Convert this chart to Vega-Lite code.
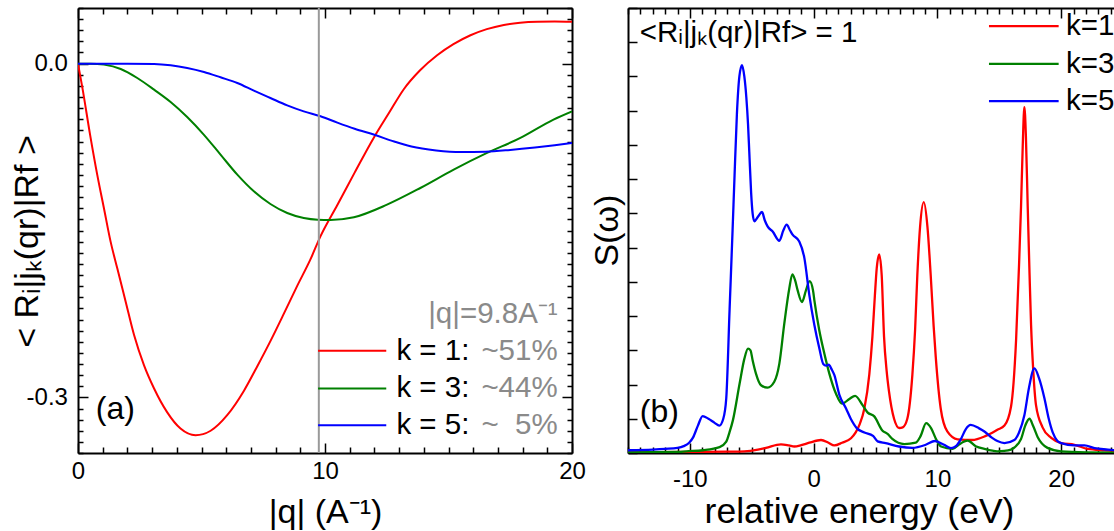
{
  "$schema": "https://vega.github.io/schema/vega-lite/v6.json",
  "padding": {"left": 10, "top": -4, "right": 0, "bottom": 0},
  "background": "white",
  "spacing": 4,
  "config": {
    "font": "Liberation Sans",
    "view": {"stroke": null},
    "axis": {
      "grid": false,
      "domainColor": "black",
      "domainWidth": 2,
      "tickColor": "black",
      "tickWidth": 1.5,
      "labelFont": "Liberation Sans",
      "labelFontSize": 24,
      "labelColor": "black",
      "titleFont": "Liberation Sans",
      "titleFontSize": 34,
      "titleFontWeight": "normal",
      "titleColor": "black",
      "labelOverlap": false,
      "labelFlush": false
    },
    "text": {"font": "Liberation Sans"}
  },
  "datasets": {
    "curvesA": [
      {"k": "k1", "q": 0, "v": 0}, {"k": "k1", "q": 0.18, "v": -0.022}, {"k": "k1", "q": 0.49, "v": -0.064},
      {"k": "k1", "q": 0.78, "v": -0.1}, {"k": "k1", "q": 1.05, "v": -0.13}, {"k": "k1", "q": 1.32, "v": -0.16},
      {"k": "k1", "q": 1.59, "v": -0.184}, {"k": "k1", "q": 1.93, "v": -0.214}, {"k": "k1", "q": 2.27, "v": -0.244},
      {"k": "k1", "q": 2.67, "v": -0.271}, {"k": "k1", "q": 3.08, "v": -0.292}, {"k": "k1", "q": 3.6, "v": -0.313},
      {"k": "k1", "q": 4.15, "v": -0.328}, {"k": "k1", "q": 4.76, "v": -0.334}, {"k": "k1", "q": 5.37, "v": -0.33},
      {"k": "k1", "q": 6.04, "v": -0.316}, {"k": "k1", "q": 6.72, "v": -0.294}, {"k": "k1", "q": 7.26, "v": -0.272},
      {"k": "k1", "q": 7.8, "v": -0.249}, {"k": "k1", "q": 8.33, "v": -0.225}, {"k": "k1", "q": 8.87, "v": -0.2},
      {"k": "k1", "q": 9.41, "v": -0.176}, {"k": "k1", "q": 9.82, "v": -0.155}, {"k": "k1", "q": 10.5, "v": -0.127},
      {"k": "k1", "q": 11.2, "v": -0.098}, {"k": "k1", "q": 11.97, "v": -0.0668}, {"k": "k1", "q": 12.6, "v": -0.044},
      {"k": "k1", "q": 13.19, "v": -0.023}, {"k": "k1", "q": 13.85, "v": -0.006}, {"k": "k1", "q": 14.54, "v": 0.0075},
      {"k": "k1", "q": 15.2, "v": 0.0175}, {"k": "k1", "q": 15.89, "v": 0.0255}, {"k": "k1", "q": 16.55, "v": 0.031},
      {"k": "k1", "q": 17.24, "v": 0.0348}, {"k": "k1", "q": 17.9, "v": 0.0368}, {"k": "k1", "q": 18.6, "v": 0.0377},
      {"k": "k1", "q": 19.3, "v": 0.0379}, {"k": "k1", "q": 20, "v": 0.0376},
      {"k": "k3", "q": 0, "v": 0}, {"k": "k3", "q": 0.5, "v": 0}, {"k": "k3", "q": 1.05, "v": -0.0009},
      {"k": "k3", "q": 1.73, "v": -0.0048}, {"k": "k3", "q": 2.4, "v": -0.0129}, {"k": "k3", "q": 3.08, "v": -0.0234},
      {"k": "k3", "q": 3.75, "v": -0.0345}, {"k": "k3", "q": 4.42, "v": -0.048}, {"k": "k3", "q": 5.1, "v": -0.064},
      {"k": "k3", "q": 5.77, "v": -0.0818}, {"k": "k3", "q": 6.45, "v": -0.0998}, {"k": "k3", "q": 7.12, "v": -0.1148},
      {"k": "k3", "q": 7.79, "v": -0.1262}, {"k": "k3", "q": 8.47, "v": -0.1343}, {"k": "k3", "q": 9.14, "v": -0.1388},
      {"k": "k3", "q": 9.71, "v": -0.1403}, {"k": "k3", "q": 10.22, "v": -0.1405}, {"k": "k3", "q": 11.17, "v": -0.1381},
      {"k": "k3", "q": 12.51, "v": -0.1268}, {"k": "k3", "q": 13.86, "v": -0.1118}, {"k": "k3", "q": 15.21, "v": -0.0953},
      {"k": "k3", "q": 16.56, "v": -0.0803}, {"k": "k3", "q": 17.91, "v": -0.0668}, {"k": "k3", "q": 19.25, "v": -0.0503},
      {"k": "k3", "q": 20, "v": -0.0429},
      {"k": "k5", "q": 0, "v": 0}, {"k": "k5", "q": 1, "v": 0}, {"k": "k5", "q": 2, "v": 0},
      {"k": "k5", "q": 3.08, "v": -0.0003}, {"k": "k5", "q": 3.75, "v": -0.0015}, {"k": "k5", "q": 4.42, "v": -0.0039},
      {"k": "k5", "q": 5.1, "v": -0.0075}, {"k": "k5", "q": 5.77, "v": -0.0123}, {"k": "k5", "q": 6.45, "v": -0.0174},
      {"k": "k5", "q": 7.12, "v": -0.0243}, {"k": "k5", "q": 7.79, "v": -0.0309}, {"k": "k5", "q": 8.47, "v": -0.0375},
      {"k": "k5", "q": 9.14, "v": -0.0429}, {"k": "k5", "q": 9.82, "v": -0.0473}, {"k": "k5", "q": 10.5, "v": -0.053},
      {"k": "k5", "q": 11.2, "v": -0.0585}, {"k": "k5", "q": 12.0, "v": -0.064}, {"k": "k5", "q": 12.8, "v": -0.07},
      {"k": "k5", "q": 13.5, "v": -0.0745}, {"k": "k5", "q": 14.5, "v": -0.078}, {"k": "k5", "q": 15.5, "v": -0.0795},
      {"k": "k5", "q": 16.5, "v": -0.0792}, {"k": "k5", "q": 17.5, "v": -0.0776}, {"k": "k5", "q": 18.5, "v": -0.0754},
      {"k": "k5", "q": 19.3, "v": -0.0733}, {"k": "k5", "q": 20, "v": -0.0713}
    ],
    "markerA": [{"q": 9.75}],
    "legendA": [
      {"k": "k1", "x1": 9.72, "x2": 12.48, "y": -0.258},
      {"k": "k3", "x1": 9.72, "x2": 12.48, "y": -0.292},
      {"k": "k5", "x1": 9.72, "x2": 12.48, "y": -0.325}
    ],
    "labelA": [{"x": 0.72, "y": -0.31, "t": "(a)"}],
    "blackA": [
      {"x": 12.89, "y": -0.258, "t": "k = 1:"},
      {"x": 12.89, "y": -0.292, "t": "k = 3:"},
      {"x": 12.89, "y": -0.325, "t": "k = 5:"}
    ],
    "grayA": [
      {"x": 19.42, "y": -0.2253, "t": "|q|=9.8A⁻¹"},
      {"x": 19.42, "y": -0.258, "t": "~51%"},
      {"x": 19.42, "y": -0.292, "t": "~44%"},
      {"x": 19.42, "y": -0.325, "t": "~\u00a0\u00a05%"}
    ],
    "curvesB": [
      {"k": "k1", "e": -15, "s": 0.02}, {"k": "k1", "e": -10, "s": 0.03}, {"k": "k1", "e": -7, "s": 0.04},
      {"k": "k1", "e": -5.6, "s": 0.05}, {"k": "k1", "e": -4.5, "s": 0.1}, {"k": "k1", "e": -3.85, "s": 0.15},
      {"k": "k1", "e": -2.64, "s": 0.25}, {"k": "k1", "e": -2.0, "s": 0.22}, {"k": "k1", "e": -1.56, "s": 0.19},
      {"k": "k1", "e": -1.0, "s": 0.23}, {"k": "k1", "e": -0.35, "s": 0.3}, {"k": "k1", "e": 0.6, "s": 0.38},
      {"k": "k1", "e": 1.2, "s": 0.3}, {"k": "k1", "e": 1.67, "s": 0.22}, {"k": "k1", "e": 2.3, "s": 0.3},
      {"k": "k1", "e": 3.02, "s": 0.43}, {"k": "k1", "e": 3.4, "s": 0.6}, {"k": "k1", "e": 3.7, "s": 0.82},
      {"k": "k1", "e": 4.1, "s": 1.3}, {"k": "k1", "e": 4.5, "s": 2.3}, {"k": "k1", "e": 4.75, "s": 3.4},
      {"k": "k1", "e": 4.95, "s": 4.6}, {"k": "k1", "e": 5.1, "s": 5.4}, {"k": "k1", "e": 5.3, "s": 5.8},
      {"k": "k1", "e": 5.5, "s": 5.2}, {"k": "k1", "e": 5.69, "s": 3.4}, {"k": "k1", "e": 5.9, "s": 2.4},
      {"k": "k1", "e": 6.09, "s": 1.8}, {"k": "k1", "e": 6.5, "s": 1.0}, {"k": "k1", "e": 6.92, "s": 0.73},
      {"k": "k1", "e": 7.2, "s": 0.75}, {"k": "k1", "e": 7.57, "s": 1.0}, {"k": "k1", "e": 7.98, "s": 2.29},
      {"k": "k1", "e": 8.2, "s": 3.6}, {"k": "k1", "e": 8.38, "s": 5.2}, {"k": "k1", "e": 8.6, "s": 6.6},
      {"k": "k1", "e": 8.9, "s": 7.33}, {"k": "k1", "e": 9.2, "s": 6.6}, {"k": "k1", "e": 9.46, "s": 5.2},
      {"k": "k1", "e": 9.7, "s": 3.7}, {"k": "k1", "e": 9.87, "s": 2.8}, {"k": "k1", "e": 10.27, "s": 1.3},
      {"k": "k1", "e": 10.8, "s": 0.63}, {"k": "k1", "e": 11.64, "s": 0.4}, {"k": "k1", "e": 12.8, "s": 0.38},
      {"k": "k1", "e": 13.91, "s": 0.5}, {"k": "k1", "e": 14.85, "s": 0.68}, {"k": "k1", "e": 15.42, "s": 0.8},
      {"k": "k1", "e": 15.95, "s": 1.35}, {"k": "k1", "e": 16.36, "s": 3.3}, {"k": "k1", "e": 16.6, "s": 5.5},
      {"k": "k1", "e": 16.76, "s": 7.2}, {"k": "k1", "e": 16.9, "s": 9.0}, {"k": "k1", "e": 17.03, "s": 10.1},
      {"k": "k1", "e": 17.15, "s": 9.3}, {"k": "k1", "e": 17.3, "s": 7.2}, {"k": "k1", "e": 17.45, "s": 5.2},
      {"k": "k1", "e": 17.57, "s": 3.75}, {"k": "k1", "e": 17.75, "s": 2.4}, {"k": "k1", "e": 17.97, "s": 1.4},
      {"k": "k1", "e": 18.5, "s": 0.75}, {"k": "k1", "e": 19.2, "s": 0.44}, {"k": "k1", "e": 20.0, "s": 0.29},
      {"k": "k1", "e": 21.08, "s": 0.24}, {"k": "k1", "e": 22.15, "s": 0.12}, {"k": "k1", "e": 23.5, "s": 0.08},
      {"k": "k1", "e": 25, "s": 0.05},
      {"k": "k3", "e": -15, "s": 0.02}, {"k": "k3", "e": -11, "s": 0.03}, {"k": "k3", "e": -10.3, "s": 0.05},
      {"k": "k3", "e": -8.95, "s": 0.08}, {"k": "k3", "e": -7.6, "s": 0.17}, {"k": "k3", "e": -7.06, "s": 0.33},
      {"k": "k3", "e": -6.8, "s": 0.6}, {"k": "k3", "e": -6.52, "s": 0.96}, {"k": "k3", "e": -5.98, "s": 2.03},
      {"k": "k3", "e": -5.6, "s": 2.75}, {"k": "k3", "e": -5.3, "s": 3.05}, {"k": "k3", "e": -5.1, "s": 3.0},
      {"k": "k3", "e": -4.93, "s": 2.71}, {"k": "k3", "e": -4.66, "s": 2.32}, {"k": "k3", "e": -4.25, "s": 1.98},
      {"k": "k3", "e": -3.72, "s": 1.91}, {"k": "k3", "e": -3.18, "s": 2.08}, {"k": "k3", "e": -2.77, "s": 2.61},
      {"k": "k3", "e": -2.37, "s": 3.78}, {"k": "k3", "e": -1.97, "s": 4.8}, {"k": "k3", "e": -1.72, "s": 5.22},
      {"k": "k3", "e": -1.5, "s": 5.05}, {"k": "k3", "e": -1.29, "s": 4.75}, {"k": "k3", "e": -0.94, "s": 4.41},
      {"k": "k3", "e": -0.62, "s": 4.75}, {"k": "k3", "e": -0.32, "s": 5.02}, {"k": "k3", "e": -0.05, "s": 4.75},
      {"k": "k3", "e": 0.06, "s": 4.46}, {"k": "k3", "e": 0.46, "s": 3.58}, {"k": "k3", "e": 0.87, "s": 2.9},
      {"k": "k3", "e": 1.27, "s": 2.32}, {"k": "k3", "e": 1.81, "s": 1.73}, {"k": "k3", "e": 2.3, "s": 1.44},
      {"k": "k3", "e": 2.89, "s": 1.58}, {"k": "k3", "e": 3.35, "s": 1.67}, {"k": "k3", "e": 3.97, "s": 1.39},
      {"k": "k3", "e": 4.37, "s": 1.18}, {"k": "k3", "e": 4.9, "s": 1.07}, {"k": "k3", "e": 5.55, "s": 0.66},
      {"k": "k3", "e": 6.0, "s": 0.55}, {"k": "k3", "e": 6.36, "s": 0.41}, {"k": "k3", "e": 7.33, "s": 0.26},
      {"k": "k3", "e": 8.25, "s": 0.3}, {"k": "k3", "e": 8.65, "s": 0.5}, {"k": "k3", "e": 9.09, "s": 0.87},
      {"k": "k3", "e": 9.5, "s": 0.72}, {"k": "k3", "e": 9.9, "s": 0.4}, {"k": "k3", "e": 10.3, "s": 0.19},
      {"k": "k3", "e": 11.24, "s": 0.12}, {"k": "k3", "e": 11.75, "s": 0.25}, {"k": "k3", "e": 12.45, "s": 0.36},
      {"k": "k3", "e": 13.1, "s": 0.2}, {"k": "k3", "e": 13.8, "s": 0.12}, {"k": "k3", "e": 14.85, "s": 0.05},
      {"k": "k3", "e": 15.4, "s": 0.06}, {"k": "k3", "e": 15.95, "s": 0.1}, {"k": "k3", "e": 16.76, "s": 0.41},
      {"k": "k3", "e": 17.1, "s": 0.8}, {"k": "k3", "e": 17.44, "s": 1.0}, {"k": "k3", "e": 17.75, "s": 0.78},
      {"k": "k3", "e": 18.11, "s": 0.46}, {"k": "k3", "e": 18.9, "s": 0.15}, {"k": "k3", "e": 20, "s": 0.05},
      {"k": "k3", "e": 22, "s": 0.02}, {"k": "k3", "e": 25, "s": 0.01},
      {"k": "k5", "e": -15, "s": 0.08}, {"k": "k5", "e": -13, "s": 0.1}, {"k": "k5", "e": -12, "s": 0.12},
      {"k": "k5", "e": -11, "s": 0.15}, {"k": "k5", "e": -10.5, "s": 0.2}, {"k": "k5", "e": -10.06, "s": 0.3},
      {"k": "k5", "e": -9.75, "s": 0.45}, {"k": "k5", "e": -9.35, "s": 0.8}, {"k": "k5", "e": -8.97, "s": 1.08},
      {"k": "k5", "e": -8.5, "s": 1.0}, {"k": "k5", "e": -8.0, "s": 0.88}, {"k": "k5", "e": -7.62, "s": 0.8},
      {"k": "k5", "e": -7.3, "s": 1.0}, {"k": "k5", "e": -7.06, "s": 1.6}, {"k": "k5", "e": -6.79, "s": 4.2},
      {"k": "k5", "e": -6.55, "s": 6.5}, {"k": "k5", "e": -6.39, "s": 8.1}, {"k": "k5", "e": -6.2, "s": 9.9},
      {"k": "k5", "e": -6.0, "s": 11.0}, {"k": "k5", "e": -5.79, "s": 11.33}, {"k": "k5", "e": -5.6, "s": 11.0},
      {"k": "k5", "e": -5.44, "s": 10.4}, {"k": "k5", "e": -5.3, "s": 9.6}, {"k": "k5", "e": -5.2, "s": 8.8},
      {"k": "k5", "e": -5.05, "s": 7.6}, {"k": "k5", "e": -4.93, "s": 7.0}, {"k": "k5", "e": -4.79, "s": 6.77},
      {"k": "k5", "e": -4.5, "s": 6.9}, {"k": "k5", "e": -4.17, "s": 7.04}, {"k": "k5", "e": -3.95, "s": 6.8},
      {"k": "k5", "e": -3.72, "s": 6.62}, {"k": "k5", "e": -3.31, "s": 6.47}, {"k": "k5", "e": -2.77, "s": 6.2},
      {"k": "k5", "e": -2.45, "s": 6.5}, {"k": "k5", "e": -2.18, "s": 6.67}, {"k": "k5", "e": -1.9, "s": 6.5},
      {"k": "k5", "e": -1.7, "s": 6.38}, {"k": "k5", "e": -1.16, "s": 6.18}, {"k": "k5", "e": -0.75, "s": 5.7},
      {"k": "k5", "e": -0.35, "s": 4.62}, {"k": "k5", "e": 0.06, "s": 3.74}, {"k": "k5", "e": 0.46, "s": 3.06},
      {"k": "k5", "e": 0.78, "s": 2.6}, {"k": "k5", "e": 1.0, "s": 2.55}, {"k": "k5", "e": 1.22, "s": 2.58},
      {"k": "k5", "e": 1.45, "s": 2.45}, {"k": "k5", "e": 1.67, "s": 2.28}, {"k": "k5", "e": 2.08, "s": 1.7},
      {"k": "k5", "e": 2.62, "s": 1.3}, {"k": "k5", "e": 3.0, "s": 1.0}, {"k": "k5", "e": 3.5, "s": 0.72},
      {"k": "k5", "e": 4.1, "s": 0.6}, {"k": "k5", "e": 4.8, "s": 0.5}, {"k": "k5", "e": 5.17, "s": 0.34},
      {"k": "k5", "e": 5.82, "s": 0.29}, {"k": "k5", "e": 6.9, "s": 0.19}, {"k": "k5", "e": 7.98, "s": 0.15},
      {"k": "k5", "e": 9.06, "s": 0.24}, {"k": "k5", "e": 9.8, "s": 0.35}, {"k": "k5", "e": 10.54, "s": 0.24},
      {"k": "k5", "e": 11.1, "s": 0.14}, {"k": "k5", "e": 11.5, "s": 0.2}, {"k": "k5", "e": 11.89, "s": 0.4},
      {"k": "k5", "e": 12.3, "s": 0.7}, {"k": "k5", "e": 12.69, "s": 0.82}, {"k": "k5", "e": 13.37, "s": 0.72},
      {"k": "k5", "e": 13.8, "s": 0.63}, {"k": "k5", "e": 14.4, "s": 0.45}, {"k": "k5", "e": 14.85, "s": 0.35},
      {"k": "k5", "e": 15.42, "s": 0.29}, {"k": "k5", "e": 16.22, "s": 0.38}, {"k": "k5", "e": 16.6, "s": 0.6},
      {"k": "k5", "e": 17.03, "s": 1.1}, {"k": "k5", "e": 17.4, "s": 1.9}, {"k": "k5", "e": 17.84, "s": 2.47},
      {"k": "k5", "e": 18.2, "s": 2.2}, {"k": "k5", "e": 18.65, "s": 1.6}, {"k": "k5", "e": 19.0, "s": 1.0},
      {"k": "k5", "e": 19.32, "s": 0.6}, {"k": "k5", "e": 19.7, "s": 0.35}, {"k": "k5", "e": 20.0, "s": 0.29},
      {"k": "k5", "e": 21.08, "s": 0.22}, {"k": "k5", "e": 21.89, "s": 0.22}, {"k": "k5", "e": 22.7, "s": 0.14},
      {"k": "k5", "e": 23.78, "s": 0.1}, {"k": "k5", "e": 25, "s": 0.06}
    ],
    "legendB": [
      {"k": "k1", "x1": 14.17, "x2": 19.8, "y": 12.47},
      {"k": "k3", "x1": 14.17, "x2": 19.8, "y": 11.37},
      {"k": "k5", "x1": 14.17, "x2": 19.8, "y": 10.28}
    ],
    "labelB": [{"x": -14.05, "y": 1.2, "t": "(b)"}],
    "textB": [
      {"x": -14.05, "y": 12.28, "t": "<Rᵢ|jₖ(qr)|Rf> = 1"},
      {"x": 20.4, "y": 12.47, "t": "k=1"},
      {"x": 20.4, "y": 11.37, "t": "k=3"},
      {"x": 20.4, "y": 10.28, "t": "k=5"}
    ]
  },
  "hconcat": [
    {
      "width": 494,
      "height": 445,
      "resolve": {"axis": {"x": "independent", "y": "independent"}},
      "layer": [
        {
          "data": {"name": "curvesA"},
          "mark": {"type": "line", "strokeWidth": 2, "interpolate": "monotone", "clip": true},
          "encoding": {
            "x": {
              "field": "q", "type": "quantitative",
              "scale": {"domain": [0, 20], "nice": false, "zero": false},
              "axis": {
                "orient": "bottom",
                "values": [0,1,2,3,4,5,6,7,8,9,10,11,12,13,14,15,16,17,18,19,20],
                "labelExpr": "datum.value % 10 === 0 ? datum.label : ''",
                "tickSize": {"condition": {"test": "datum.value % 10 === 0", "value": -10}, "value": -6},
                "labelPadding": 16.3,
                "title": "|q| (A⁻¹)",
                "titleX": 247, "titleY": 42, "titleAlign": "center", "titleBaseline": "top"
              }
            },
            "y": {
              "field": "v", "type": "quantitative",
              "scale": {"domain": [-0.35, 0.05], "nice": false, "zero": false},
              "axis": {
                "orient": "left",
                "values": [-0.35,-0.34,-0.33,-0.32,-0.31,-0.3,-0.29,-0.28,-0.27,-0.26,-0.25,-0.24,-0.23,-0.22,-0.21,-0.2,-0.19,-0.18,-0.17,-0.16,-0.15,-0.14,-0.13,-0.12,-0.11,-0.1,-0.09,-0.08,-0.07,-0.06,-0.05,-0.04,-0.03,-0.02,-0.01,0,0.01,0.02,0.03,0.04,0.05],
                "labelExpr": "abs(datum.value) < 0.001 ? '0.0' : (abs(datum.value + 0.3) < 0.001 ? '-0.3' : '')",
                "tickSize": {"condition": {"test": "abs(datum.value) < 0.001 || abs(datum.value + 0.3) < 0.001", "value": -10}, "value": -5},
                "labelPadding": 20.6,
                "title": "< Rᵢ|jₖ(qr)|Rf >",
                "titleX": -33.5, "titleY": 233, "titleAngle": 270, "titleAlign": "center", "titleBaseline": "bottom"
              }
            },
            "color": {
              "field": "k", "type": "nominal",
              "scale": {"domain": ["k1", "k3", "k5"], "range": ["#ff0000", "#008000", "#0000ff"]},
              "legend": null
            }
          }
        },
        {
          "data": {"name": "markerA"},
          "mark": {"type": "rule", "color": "#999999", "strokeWidth": 2},
          "encoding": {
            "x": {"field": "q", "type": "quantitative", "axis": null}
          }
        },
        {
          "data": {"name": "legendA"},
          "mark": {"type": "rule", "strokeWidth": 2},
          "encoding": {
            "x": {
              "field": "x1", "type": "quantitative",
              "axis": {
                "orient": "top",
                "values": [0,1,2,3,4,5,6,7,8,9,10,11,12,13,14,15,16,17,18,19,20],
                "labels": false,
                "tickSize": {"condition": {"test": "datum.value % 10 === 0", "value": -10}, "value": -6},
                "title": null
              }
            },
            "x2": {"field": "x2"},
            "y": {
              "field": "y", "type": "quantitative",
              "axis": {
                "orient": "right",
                "values": [-0.35,-0.34,-0.33,-0.32,-0.31,-0.3,-0.29,-0.28,-0.27,-0.26,-0.25,-0.24,-0.23,-0.22,-0.21,-0.2,-0.19,-0.18,-0.17,-0.16,-0.15,-0.14,-0.13,-0.12,-0.11,-0.1,-0.09,-0.08,-0.07,-0.06,-0.05,-0.04,-0.03,-0.02,-0.01,0,0.01,0.02,0.03,0.04,0.05],
                "labels": false,
                "tickSize": {"condition": {"test": "abs(datum.value) < 0.001 || abs(datum.value + 0.3) < 0.001", "value": -10}, "value": -5},
                "title": null
              }
            },
            "color": {"field": "k", "type": "nominal", "legend": null}
          }
        },
        {
          "data": {"name": "labelA"},
          "mark": {"type": "text", "align": "left", "baseline": "middle", "fontSize": 32, "color": "black"},
          "encoding": {
            "x": {"field": "x", "type": "quantitative", "axis": null},
            "y": {"field": "y", "type": "quantitative", "axis": null},
            "text": {"field": "t"}
          }
        },
        {
          "data": {"name": "blackA"},
          "mark": {"type": "text", "align": "left", "baseline": "middle", "fontSize": 29.5, "color": "black"},
          "encoding": {
            "x": {"field": "x", "type": "quantitative", "axis": null},
            "y": {"field": "y", "type": "quantitative", "axis": null},
            "text": {"field": "t"}
          }
        },
        {
          "data": {"name": "grayA"},
          "mark": {"type": "text", "align": "right", "baseline": "middle", "fontSize": 29.5, "color": "#8a8a8a"},
          "encoding": {
            "x": {"field": "x", "type": "quantitative", "axis": null},
            "y": {"field": "y", "type": "quantitative", "axis": null},
            "text": {"field": "t"}
          }
        }
      ]
    },
    {
      "width": 495,
      "height": 445,
      "resolve": {"axis": {"x": "independent", "y": "independent"}},
      "layer": [
        {
          "data": {"name": "curvesB"},
          "mark": {"type": "line", "strokeWidth": 2.3, "interpolate": "monotone", "clip": true},
          "encoding": {
            "x": {
              "field": "e", "type": "quantitative",
              "scale": {"domain": [-15, 25], "nice": false, "zero": false},
              "axis": {
                "orient": "bottom",
                "values": [-15,-14,-13,-12,-11,-10,-9,-8,-7,-6,-5,-4,-3,-2,-1,0,1,2,3,4,5,6,7,8,9,10,11,12,13,14,15,16,17,18,19,20,21,22,23,24,25],
                "labelExpr": "datum.value % 10 === 0 ? '' + datum.value : ''",
                "tickSize": {"condition": {"test": "datum.value % 10 === 0", "value": -10}, "value": -6},
                "labelPadding": 24.8,
                "title": "relative energy (eV)",
                "titleFontSize": 35.5,
                "titleX": 231, "titleY": 41, "titleAlign": "center", "titleBaseline": "top"
              }
            },
            "y": {
              "field": "s", "type": "quantitative",
              "scale": {"domain": [0, 13], "nice": false, "zero": false},
              "axis": {
                "orient": "left",
                "values": [0,1,2,3,4,5,6,7,8,9,10,11,12,13],
                "labels": false,
                "tickSize": -9,
                "title": "S(ω)",
                "titleX": -4, "titleY": 222, "titleAngle": 270, "titleAlign": "center", "titleBaseline": "bottom"
              }
            },
            "color": {
              "field": "k", "type": "nominal",
              "scale": {"domain": ["k1", "k3", "k5"], "range": ["#ff0000", "#008000", "#0000ff"]},
              "legend": null
            }
          }
        },
        {
          "data": {"name": "legendB"},
          "mark": {"type": "rule", "strokeWidth": 2.3},
          "encoding": {
            "x": {
              "field": "x1", "type": "quantitative",
              "axis": {
                "orient": "top",
                "values": [-15,-14,-13,-12,-11,-10,-9,-8,-7,-6,-5,-4,-3,-2,-1,0,1,2,3,4,5,6,7,8,9,10,11,12,13,14,15,16,17,18,19,20,21,22,23,24,25],
                "labels": false,
                "tickSize": {"condition": {"test": "datum.value % 10 === 0", "value": -10}, "value": -6},
                "title": null
              }
            },
            "x2": {"field": "x2"},
            "y": {
              "field": "y", "type": "quantitative",
              "axis": {
                "orient": "right",
                "values": [0,1,2,3,4,5,6,7,8,9,10,11,12,13],
                "labels": false,
                "tickSize": -6,
                "title": null
              }
            },
            "color": {"field": "k", "type": "nominal", "legend": null}
          }
        },
        {
          "data": {"name": "labelB"},
          "mark": {"type": "text", "align": "left", "baseline": "middle", "fontSize": 32, "color": "black"},
          "encoding": {
            "x": {"field": "x", "type": "quantitative", "axis": null},
            "y": {"field": "y", "type": "quantitative", "axis": null},
            "text": {"field": "t"}
          }
        },
        {
          "data": {"name": "textB"},
          "mark": {"type": "text", "align": "left", "baseline": "middle", "fontSize": 29.5, "color": "black", "clip": true},
          "encoding": {
            "x": {"field": "x", "type": "quantitative", "axis": null},
            "y": {"field": "y", "type": "quantitative", "axis": null},
            "text": {"field": "t"}
          }
        }
      ]
    }
  ]
}
